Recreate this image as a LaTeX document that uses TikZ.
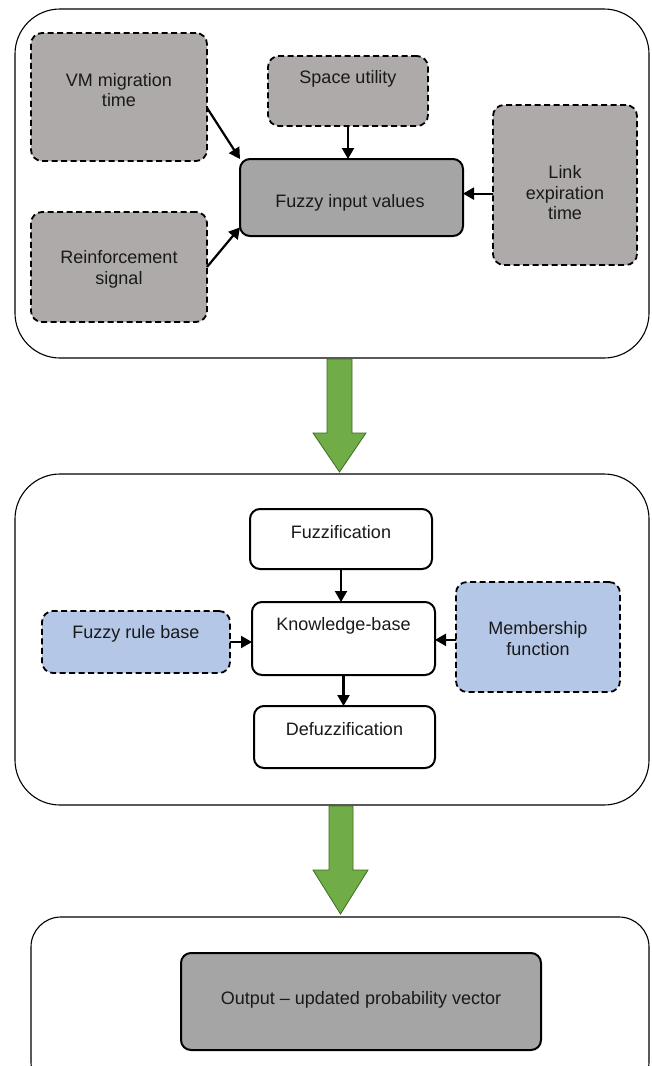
\documentclass[tikz,border=0pt]{standalone}
\usepackage{fontspec}
\setmainfont{Liberation Sans}
\usetikzlibrary{arrows.meta,calc}
\definecolor{boxgrey}{HTML}{AEAAAA}
\definecolor{darkgrey}{HTML}{A5A5A5}
\definecolor{lightblue}{HTML}{B4C7E7}
\definecolor{arrowgreen}{HTML}{70AD47}
\definecolor{arrowedge}{HTML}{3F6B26}
\tikzset{
  container/.style={draw=black, line width=1.1pt, rounded corners=45pt},
  dashbox/.style={draw=black, line width=1.8pt, dash pattern=on 6pt off 3.5pt, rounded corners=11pt, inner sep=0pt, outer sep=0pt},
  greybox/.style={dashbox, fill=boxgrey},
  bluebox/.style={dashbox, fill=lightblue},
  solidbox/.style={draw=black, line width=2pt, rounded corners=10pt, inner sep=0pt, outer sep=0pt},
  whitebox/.style={solidbox, fill=white},
  darkbox/.style={solidbox, fill=darkgrey},
  txt/.style={font=\fontsize{18}{20.5}\selectfont, align=center, text=black!90, inner sep=0pt},
  arr/.style={line width=2.2pt, -{Triangle[length=11pt,width=12pt]}},
  bigarrow/.style={fill=arrowgreen, draw=arrowedge, line width=0.8pt},
}
\begin{document}
\begin{tikzpicture}[x=1pt,y=-1pt]
\clip (0,0) rectangle (652,1066);
\useasboundingbox (0,0) rectangle (652,1066);
% containers
\draw[container] (15,9) rectangle (649,358);
\draw[container] (15,474) rectangle (649,805);
\draw[container, rounded corners=30pt] (31,917) rectangle (649,1092);
% top section
\node[greybox, minimum width=176pt, minimum height=128pt] (vm) at (119,97) {};
\node[txt] (vmt) at (119,90) {VM migration\\time};
\node[greybox, minimum width=160pt, minimum height=70pt] (sp) at (348,91) {};
\node[txt] (spt) at (348,79) {Space utility};
\node[darkbox, minimum width=223pt, minimum height=77pt] (fz) at (351.5,197.5) {};
\node[txt] (fzt) at (350,203) {Fuzzy input values};
\node[greybox, minimum width=144pt, minimum height=160pt] (lk) at (565,185) {};
\node[txt] (lkt) at (565,193) {Link\\expiration\\time};
\node[greybox, minimum width=176pt, minimum height=110pt] (rs) at (119,267) {};
\node[txt] (rst) at (119,269.5) {Reinforcement\\signal};
\draw[arr] (vm.-7) -- (fz.north west);
\draw[arr] (rs.east) -- (fz.195);
\draw[arr] (sp.south) -- (sp.south |- fz.north);
\draw[arr] (lk.west |- fz.2) -- (fz.2);
% green arrow 1
\draw[bigarrow] (327,359) -- (352,359) -- (352,433) -- (366,433) -- (339.5,472) -- (313,433) -- (327,433) -- cycle;
% middle section
\node[whitebox, minimum width=182pt, minimum height=60pt] (fuz) at (341,539) {};
\node[txt] (fuzt) at (341,532) {Fuzzification};
\node[whitebox, minimum width=183pt, minimum height=73pt] (kb) at (343.5,638.5) {};
\node[txt] (kbt) at (343.5,626) {Knowledge-base};
\node[whitebox, minimum width=181pt, minimum height=62pt] (dfz) at (344.5,737) {};
\node[txt] (dfzt) at (344.5,729) {Defuzzification};
\node[bluebox, minimum width=188pt, minimum height=62pt] (frb) at (136,642) {};
\node[txt] (frbt) at (136,634) {Fuzzy rule base};
\node[bluebox, minimum width=164pt, minimum height=110pt] (mf) at (538,637) {};
\node[txt] (mft) at (538,638.5) {Membership\\function};
\draw[arr] (fuz.south) -- (fuz.south |- kb.north);
\draw[arr] (kb.south) -- (kb.south |- dfz.north);
\draw[arr] (frb.east) -- (frb.east -| kb.west);
\draw[arr] (mf.182) -- (mf.182 -| kb.east);
% green arrow 2
\draw[bigarrow] (329,806) -- (353,806) -- (353,870) -- (368,870) -- (340.5,914) -- (313,870) -- (329,870) -- cycle;
% bottom section
\node[darkbox, minimum width=360pt, minimum height=97pt] (out) at (361,1001.5) {};
\node[txt] (outt) at (361,1000) {Output -- updated probability vector};
\end{tikzpicture}
\end{document}
